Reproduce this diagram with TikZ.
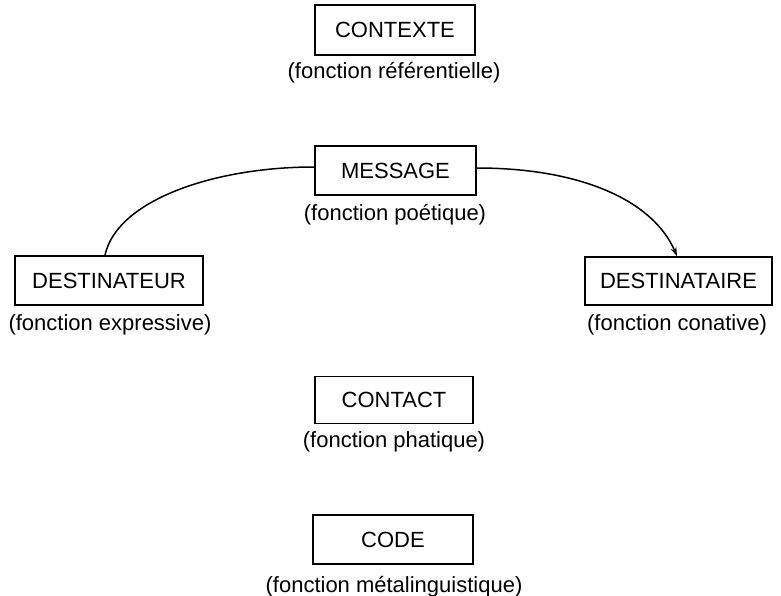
\documentclass[tikz,border=0pt]{standalone}
\usepackage{fontspec}
\setmainfont{Liberation Sans}
\usetikzlibrary{arrows.meta}
\begin{document}
\begin{tikzpicture}[x=1pt,y=-1pt,
  fbox/.style={draw,line width=1.7pt,inner sep=0pt,font=\fontsize{22}{26}\selectfont},
  flabel/.style={inner sep=0pt,font=\fontsize{22}{26}\selectfont},
  link/.style={line width=1.5pt}]
\useasboundingbox (0,0) rectangle (781,596);
\node[fbox,minimum width=160pt,minimum height=50pt] (ctx) at (395,30) {CONTEXTE};
\node[flabel] (ctxl) at (394,73) {(fonction référentielle)};
\node[fbox,minimum width=161pt,minimum height=49pt] (msg) at (395.5,170.5) {MESSAGE};
\node[flabel] (msgl) at (395,215) {(fonction poétique)};
\node[fbox,minimum width=188pt,minimum height=49pt] (dst) at (109,280.5) {DESTINATEUR};
\node[flabel] (dstl) at (110,325) {(fonction expressive)};
\node[fbox,minimum width=187pt,minimum height=48pt] (dsr) at (678.5,281) {DESTINATAIRE};
\node[flabel] (dsrl) at (677,325) {(fonction conative)};
\node[fbox,minimum width=158pt,minimum height=47pt] (cnt) at (394,400) {CONTACT};
\node[flabel] (cntl) at (394,442) {(fonction phatique)};
\node[fbox,minimum width=160pt,minimum height=49pt] (cod) at (393,539.5) {CODE};
\node[flabel] (codl) at (394,587) {(fonction métalinguistique)};
\draw[link] ([xshift=-4pt]dst.north) .. controls ([xshift=8pt,yshift=55pt]dst.north) and ([xshift=-100pt,yshift=3.5pt]msg.west) .. ([yshift=3.5pt]msg.west);
\draw[link,-{Stealth[length=9pt,width=6pt]}] ([yshift=2.5pt]msg.east) .. controls ([xshift=105pt,yshift=2.5pt]msg.east) and ([xshift=-25pt,yshift=55pt]dsr.north) .. ([xshift=-1.5pt]dsr.north);
\end{tikzpicture}
\end{document}
